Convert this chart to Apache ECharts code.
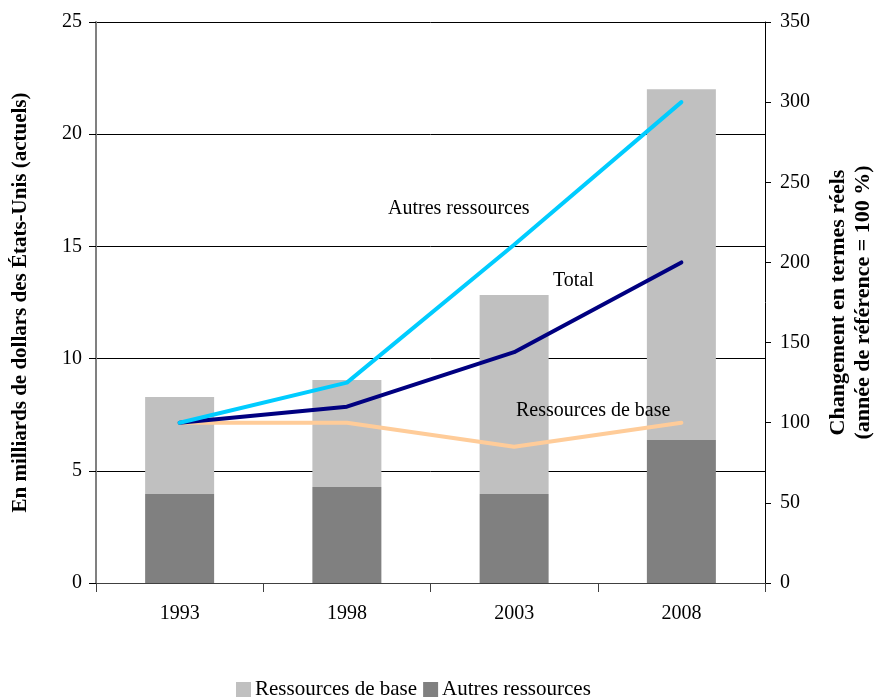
<!DOCTYPE html>
<html>
<head>
<meta charset="utf-8">
<script src="https://cdn.jsdelivr.net/npm/echarts@6/dist/echarts.min.js"></script>
<style>
  html, body { margin: 0; padding: 0; background: #fff; }
  #chart { width: 889px; height: 700px; }
</style>
</head>
<body>
<div id="chart"></div>
<script>
// categories and values
const years = ['1993', '1998', '2003', '2008'];
const autresBars = [3.97, 4.28, 3.97, 6.37];      // dark grey, bottom
const baseBars = [4.32, 4.77, 8.86, 15.63];       // light grey, stacked on top
const autresLine = [100, 125, 211, 300];          // % of reference year
const totalLine = [100, 110, 144, 200];
const baseLine = [100, 100, 85, 100];

const leftTicks = [0, 5, 10, 15, 20, 25];
const rightTicks = [0, 50, 100, 150, 200, 250, 300, 350];

const serif = '"Liberation Serif", "DejaVu Serif", serif';

const chart = echarts.init(document.getElementById('chart'));

const option = {
  backgroundColor: '#fff',
  animation: false,
  textStyle: { fontFamily: serif, color: '#000' },
  grid: { left: 96, right: 124, top: 22, bottom: 117, outerBoundsMode: 'none' },
  legend: {
    data: ['Ressources de base', 'Autres ressources'],
    top: 679,
    left: 236,
    padding: 0,
    itemWidth: 15,
    itemHeight: 15,
    itemGap: 6,
    icon: 'rect',
    textStyle: { fontFamily: serif, fontSize: 21, color: '#000', padding: [0, 0, 0, -1] }
  },
  xAxis: {
    type: 'category',
    data: years,
    axisLine: { lineStyle: { color: '#404040', width: 1 } },
    axisTick: { show: true, alignWithLabel: false, length: 9, lineStyle: { color: '#404040' } },
    axisLabel: { fontFamily: serif, fontSize: 20, color: '#000', margin: 21 }
  },
  yAxis: [
    {
      type: 'value',
      min: leftTicks[0],
      max: leftTicks[leftTicks.length - 1],
      interval: 5,
      position: 'left',
      name: 'En milliards de dollars des États-Unis (actuels)',
      nameLocation: 'middle',
      nameRotate: 90,
      nameGap: 65,
      nameTextStyle: { fontFamily: serif, fontSize: 21, fontWeight: 'bold', color: '#000' },
      axisLine: { show: true, lineStyle: { color: '#808080', width: 2 } },
      axisTick: { show: true, length: 7, lineStyle: { color: '#000' } },
      axisLabel: { fontFamily: serif, fontSize: 20, color: '#000', margin: 14 },
      splitLine: { show: true, lineStyle: { color: '#000', width: 1 } }
    },
    {
      type: 'value',
      min: rightTicks[0],
      max: rightTicks[rightTicks.length - 1],
      interval: 50,
      position: 'right',
      name: 'Changement en termes réels\n(année de référence = 100 %)',
      nameLocation: 'middle',
      nameRotate: 90,
      nameGap: 61,
      nameTextStyle: { fontFamily: serif, fontSize: 22, fontWeight: 'bold', color: '#000', lineHeight: 25 },
      axisLine: { show: true, lineStyle: { color: '#000', width: 1 } },
      axisTick: { show: true, length: 6, lineStyle: { color: '#000' } },
      axisLabel: { fontFamily: serif, fontSize: 20, color: '#000', margin: 15 },
      splitLine: { show: false }
    }
  ],
  series: [
    {
      name: 'Autres ressources',
      type: 'bar',
      stack: 'res',
      data: autresBars,
      barWidth: 69,
      itemStyle: { color: '#808080' },
      z: 2
    },
    {
      name: 'Ressources de base',
      type: 'bar',
      stack: 'res',
      data: baseBars,
      barWidth: 69,
      itemStyle: { color: '#c0c0c0' },
      z: 2
    },
    {
      name: 'Ressources de base (ligne)',
      type: 'line',
      yAxisIndex: 1,
      data: baseLine,
      symbol: 'none',
      lineStyle: { color: '#ffcc99', width: 4, cap: 'round' },
      z: 3
    },
    {
      name: 'Total',
      type: 'line',
      yAxisIndex: 1,
      data: totalLine,
      symbol: 'none',
      lineStyle: { color: '#000080', width: 4, cap: 'round' },
      z: 4
    },
    {
      name: 'Autres ressources (ligne)',
      type: 'line',
      yAxisIndex: 1,
      data: autresLine,
      symbol: 'none',
      lineStyle: { color: '#00ccff', width: 4, cap: 'round' },
      z: 5
    }
  ],
  graphic: [
    { type: 'text', left: 388, top: 199, z: 10,
      style: { text: 'Autres ressources', font: '20px ' + serif, fill: '#000' } },
    { type: 'text', left: 553, top: 271, z: 10,
      style: { text: 'Total', font: '20px ' + serif, fill: '#000' } },
    { type: 'text', left: 516, top: 401, z: 10,
      style: { text: 'Ressources de base', font: '20px ' + serif, fill: '#000' } }
  ]
};

chart.setOption(option);
</script>
</body>
</html>
